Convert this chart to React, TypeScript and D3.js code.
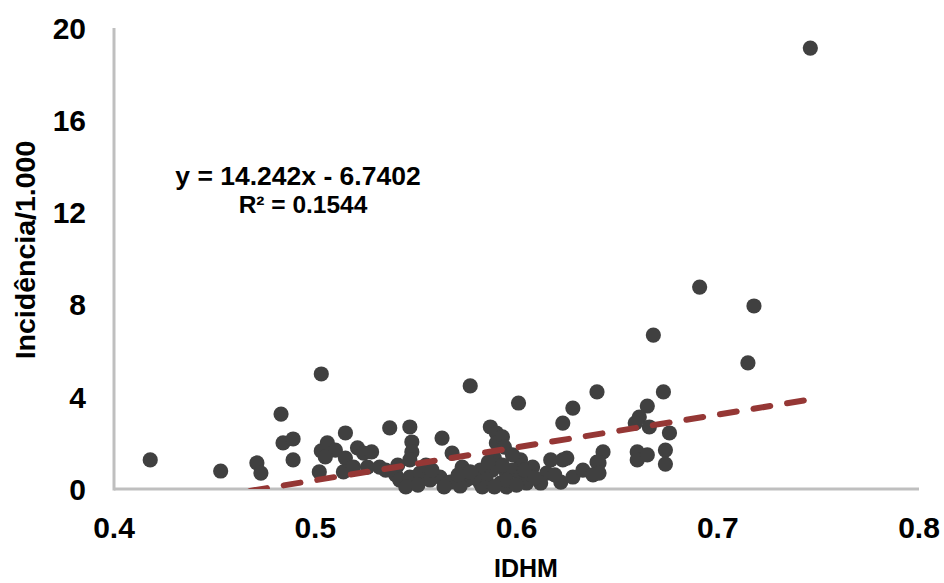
import React from "react";
import * as d3 from "d3";

// IDHM (x) values
const idhm: number[] = [
  0.418, 0.453, 0.471, 0.473, 0.483, 0.484, 0.489, 0.489, 0.503, 0.502,
  0.503, 0.506, 0.510, 0.505, 0.515, 0.515, 0.514, 0.521, 0.524, 0.528,
  0.519, 0.526, 0.532, 0.537, 0.547, 0.548, 0.548, 0.547, 0.541, 0.535,
  0.540, 0.542, 0.547, 0.552, 0.557, 0.563, 0.568, 0.562, 0.567, 0.573,
  0.575, 0.582, 0.582, 0.577, 0.587, 0.590, 0.590, 0.589, 0.588, 0.585,
  0.592, 0.595, 0.593, 0.601, 0.594, 0.602, 0.598, 0.608, 0.617, 0.625,
  0.615, 0.612, 0.622, 0.628, 0.633, 0.638, 0.640, 0.643, 0.660, 0.660,
  0.665, 0.665, 0.661, 0.659, 0.628, 0.623, 0.640, 0.641, 0.641, 0.674,
  0.674, 0.676, 0.666, 0.673, 0.715, 0.668, 0.691, 0.718, 0.746, 0.595,
  0.583, 0.605, 0.602, 0.595, 0.545, 0.551, 0.564, 0.572, 0.579, 0.589,
  0.600, 0.609, 0.604, 0.571, 0.577, 0.593, 0.598, 0.586, 0.555, 0.558,
  0.619, 0.623,
];

// Incidência por 1.000 (y) values
const incidencia: number[] = [
  1.26, 0.78, 1.13, 0.69, 3.25, 2.0, 2.17, 1.26, 4.99, 0.74,
  1.65, 2.0, 1.69, 1.39, 2.43, 1.34, 0.74, 1.78, 1.56, 1.61,
  0.95, 0.95, 0.95, 2.65, 2.69, 2.04, 1.61, 1.26, 1.04, 0.82,
  0.61, 0.39, 0.52, 0.69, 0.39, 2.21, 1.56, 0.52, 0.30, 0.95,
  0.39, 0.82, 0.26, 4.47, 2.69, 2.43, 2.0, 1.34, 0.82, 0.39,
  0.26, 0.69, 2.26, 3.73, 1.82, 1.26, 0.82, 0.95, 1.26, 1.34,
  0.69, 0.26, 0.30, 0.52, 0.82, 0.61, 1.17, 1.61, 1.61, 1.26,
  1.48, 3.6, 3.12, 2.86, 3.51, 2.86, 4.21, 1.13, 0.69, 1.69,
  1.08, 2.43, 2.69, 4.21, 5.47, 6.68, 8.76, 7.94, 19.13, 0.09,
  0.09, 0.26, 0.52, 0.39, 0.09, 0.17, 0.09, 0.13, 0.48, 0.09,
  0.17, 0.48, 0.82, 0.61, 0.74, 1.04, 1.48, 1.17, 1.04, 0.82,
  0.61, 1.26,
];

const xTicks: number[] = [0.4, 0.5, 0.6, 0.7, 0.8];
const yTicks: number[] = [0, 4, 8, 12, 16, 20];

const slope = 14.242;
const intercept = -6.7402;
const equationLabel = "y = 14.242x - 6.7402";
const r2Label = "R² = 0.1544";
const xTitle = "IDHM";
const yTitle = "Incidência/1.000";

const W = 944;
const H = 583;
const FONT = "'Liberation Sans', Arial, Helvetica, sans-serif";

export default function App() {
  const x = d3.scaleLinear().domain([0.4, 0.8]).range([114, 919]);
  const y = d3.scaleLinear().domain([0, 20]).range([489, 28]);

  const points = idhm.map((v, i) => ({ x: v, y: incidencia[i] }));
  const xMin = d3.min(idhm) as number;
  const xMax = d3.max(idhm) as number;
  const xStart = Math.max(xMin, (-0.08 - intercept) / slope);
  const trend = [xStart, xMax].map((v) => ({ x: v, y: slope * v + intercept }));
  const line = d3
    .line<{ x: number; y: number }>()
    .x((d) => x(d.x))
    .y((d) => y(d.y));

  return (
    <svg
      width={W}
      height={H}
      style={{ position: "absolute", left: 0, top: 0, display: "block", background: "#fff" }}
      fontFamily={FONT}
      fontWeight="bold"
    >
      <defs>
        <clipPath id="plotClip">
          <rect x={x(0.4)} y={y(20)} width={x(0.8) - x(0.4)} height={y(0) - y(20)} />
        </clipPath>
      </defs>

      {/* axes */}
      <line x1={x(0.4)} x2={x(0.4)} y1={y(20)} y2={y(0) + 1.5} stroke="#bfbfbf" strokeWidth={3} />
      <line x1={x(0.4)} x2={x(0.8)} y1={y(0)} y2={y(0)} stroke="#bfbfbf" strokeWidth={3} />

      {/* y tick labels */}
      {yTicks.map((t) => (
        <text key={"y" + t} x={86} y={y(t)} dy="0.36em" textAnchor="end" fontSize={30} fill="#000">
          {t}
        </text>
      ))}
      {/* x tick labels */}
      {xTicks.map((t) => (
        <text key={"x" + t} x={x(t)} y={538} textAnchor="middle" fontSize={30} fill="#000">
          {t.toFixed(1)}
        </text>
      ))}

      {/* points */}
      {points.map((p, i) => (
        <circle key={i} cx={x(p.x)} cy={y(p.y)} r={7.6} fill="#404040" />
      ))}

      {/* trendline */}
      <path
        d={line(trend) || ""}
        clipPath="url(#plotClip)"
        fill="none"
        stroke="#953735"
        strokeWidth={6}
        strokeDasharray="17 17"
        strokeLinecap="round"
      />

      {/* equation */}
      <text x={298} y={185} textAnchor="middle" fontSize={26.5} fill="#000">
        {equationLabel}
      </text>
      <text x={303} y={213} textAnchor="middle" fontSize={24.5} fill="#000">
        {r2Label}
      </text>

      {/* axis titles */}
      <text x={526} y={577} textAnchor="middle" fontSize={25} fill="#000">
        {xTitle}
      </text>
      <text
        transform={`translate(35,250) rotate(-90)`}
        textAnchor="middle"
        fontSize={28.5}
        fill="#000"
      >
        {yTitle}
      </text>
    </svg>
  );
}
